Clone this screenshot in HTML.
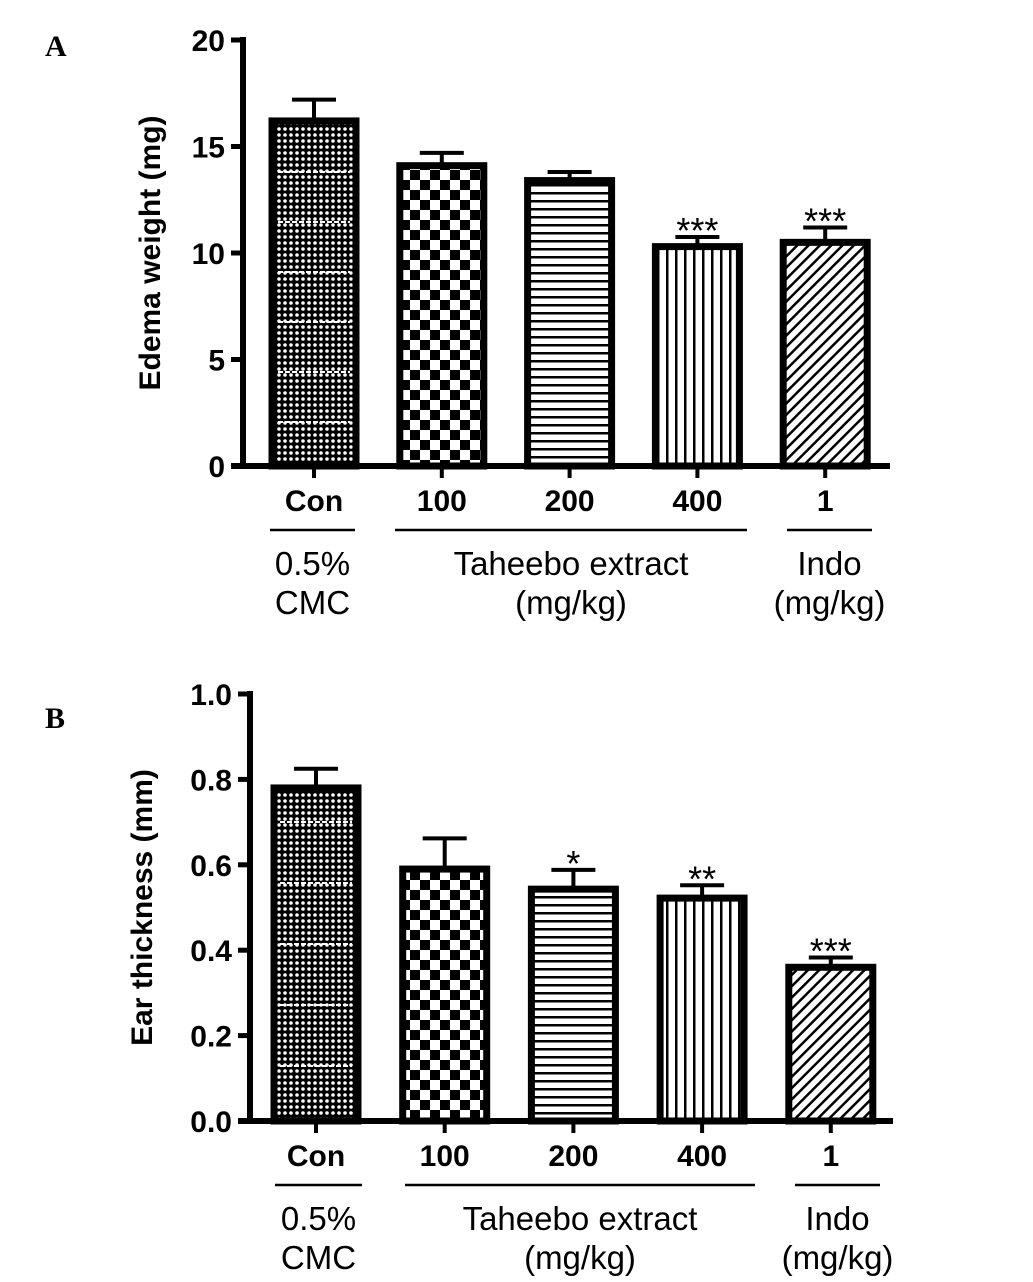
<!DOCTYPE html>
<html><head><meta charset="utf-8"><style>
body{margin:0;background:#fff}
svg{display:block}
text{font-family:"Liberation Sans",Arial,sans-serif;fill:#000}
.tk{font-size:30px;font-weight:bold}
.grp{font-size:33px}
.ttl{font-size:30px;font-weight:bold}
.pl{font-family:"Liberation Serif",serif;font-size:30px;font-weight:bold}
</style></head><body>
<svg id="s" width="1033" height="1282" viewBox="0 0 1033 1282">
<defs>
<pattern id="pCon" width="6" height="24" patternUnits="userSpaceOnUse"><rect width="6" height="24" fill="#000"/><circle cx="3" cy="3" r="1.8" fill="#fff"/><circle cx="3" cy="9" r="1.8" fill="#fff"/><circle cx="3" cy="15" r="1.8" fill="#fff"/><circle cx="3" cy="21" r="1.8" fill="#fff"/></pattern>
<pattern id="p100" width="20" height="20" patternUnits="userSpaceOnUse"><rect width="20" height="20" fill="#fff"/><rect width="10" height="10" fill="#000"/><rect x="10" y="10" width="10" height="10" fill="#000"/></pattern>
<pattern id="p200" width="8" height="8" patternUnits="userSpaceOnUse"><rect width="8" height="8" fill="#fff"/><rect y="0" width="8" height="2.5" fill="#000"/></pattern>
<pattern id="p400" width="9" height="8" patternUnits="userSpaceOnUse"><rect width="9" height="8" fill="#fff"/><rect x="0" width="2.5" height="8" fill="#000"/></pattern>
<pattern id="pIndo" width="8" height="8" patternUnits="userSpaceOnUse" patternTransform="rotate(45)"><rect width="8" height="8" fill="#fff"/><rect width="2.5" height="8" fill="#000"/></pattern>
</defs>
<text class="pl" x="45" y="56">A</text>
<text class="pl" x="45" y="728">B</text>
</svg>
<script>
const categories=["Con","100","200","400","1"];
const valuesA=[16.2,14.1,13.4,10.3,10.5];
const errorsA=[1.0,0.6,0.4,0.45,0.7];
const sigA=["","","","***","***"];
const ticksA=[0,5,10,15,20];
const tickLabelsA=["0","5","10","15","20"];
const valuesB=[0.78,0.59,0.543,0.522,0.36];
const errorsB=[0.045,0.072,0.045,0.03,0.023];
const sigB=["","","*","**","***"];
const ticksB=[0,0.2,0.4,0.6,0.8,1.0];
const tickLabelsB=["0.0","0.2","0.4","0.6","0.8","1.0"];
const pats=["pCon","p100","p200","p400","pIndo"];
const NS="http://www.w3.org/2000/svg";
const svg=document.getElementById('s');
function mk(tag,attrs,parent,txt){const e=document.createElementNS(NS,tag);for(const k in attrs)e.setAttribute(k,attrs[k]);if(txt!==undefined)e.textContent=txt;(parent||svg).appendChild(e);return e;}
function chart(o){
  const g=mk('g',{});
  
  
  const y=v=>o.y0-(v-o.min)/(o.max-o.min)*(o.y0-o.y1);
  const x=i=>o.x0+i*o.pitch;
  o.vals.forEach((v,i)=>{
    const cx=x(i),bw=o.bw;
    const top=y(v+o.err[i]);
    const l=mk('line',{x1:cx,x2:cx,y1:y(v),y2:top,stroke:'#000','stroke-width':4},g);
    
    
    const c=mk('line',{x1:cx-22,x2:cx+22,y1:top,y2:top,stroke:'#000','stroke-width':4},g);
    
    
    const r=mk('rect',{x:cx-bw/2,y:y(v),width:bw,height:o.y0-y(v),fill:'url(#'+pats[i]+')',stroke:'#000','stroke-width':7},g);
    
    
    if(i===0){
      for(let yy=o.y0-o.band;yy>y(v)+10;yy-=o.bandStep){
        const b=mk('line',{x1:cx-bw/2+6,x2:cx+bw/2-6,y1:yy,y2:yy,stroke:'#fff','stroke-width':2,'stroke-dasharray':'5 2'},g);
        
        
      }
    }
    if(o.sig[i]){const t=mk('text',{x:cx,y:top+6,'text-anchor':'middle','font-size':36},g,o.sig[i]);
      
      }
    const tk=mk('line',{x1:cx,x2:cx,y1:o.y0,y2:o.y0+12,stroke:'#000','stroke-width':4},g);
    
    
    const lb=mk('text',{x:cx,y:o.y0+45,'text-anchor':'middle','class':'tk'},g,categories[i]);
    
    
  });
  const ya=mk('line',{x1:o.ax,x2:o.ax,y1:o.y1-3,y2:o.y0,stroke:'#000','stroke-width':6},g);
  
  
  const xa=mk('line',{x1:o.ax-12,x2:o.xend,y1:o.y0,y2:o.y0,stroke:'#000','stroke-width':6},g);
  
  
  o.ticks.forEach((t,i)=>{
    const tl=mk('line',{x1:o.ax-12,x2:o.ax,y1:y(t),y2:y(t),stroke:'#000','stroke-width':5},g);
    
    
    const tt=mk('text',{x:o.ax-18,y:y(t)+11,'text-anchor':'end','class':'tk'},g,o.tlabels[i]);
    
    
  });
  const ttl=mk('text',{x:0,y:0,'text-anchor':'middle','class':'ttl',transform:'translate('+o.tx+','+((o.y0+o.y1)/2)+') rotate(-90)'},g,o.title);
  
  
  const gl=o.y0+64;
  o.groups.forEach(gr=>{
    const ln=mk('line',{x1:gr[0],x2:gr[1],y1:gl,y2:gl,stroke:'#000','stroke-width':2.5},g);
    
    
    const cx=(gr[0]+gr[1])/2;
    const t1=mk('text',{x:cx,y:gl+45,'text-anchor':'middle','class':'grp'},g,gr[2]);
    
    
    const t2=mk('text',{x:cx,y:gl+84,'text-anchor':'middle','class':'grp'},g,gr[3]);
    
    
  });
}
chart({name:'chart-a-edema-weight',vals:valuesA,err:errorsA,sig:sigA,ticks:ticksA,tlabels:tickLabelsA,min:0,max:20,y0:466,y1:40,ax:243,xend:890,x0:314,pitch:127.8,bw:84,tx:160,band:44,bandStep:50,title:'Edema weight (mg)',
  groups:[[270,355,'0.5%','CMC'],[395,747,'Taheebo extract','(mg/kg)'],[787,872,'Indo','(mg/kg)']]});
chart({name:'chart-b-ear-thickness',vals:valuesB,err:errorsB,sig:sigB,ticks:ticksB,tlabels:tickLabelsB,min:0,max:1,y0:1121,y1:694,ax:250,xend:893,x0:316,pitch:128.7,bw:84,tx:152,band:55,bandStep:61,title:'Ear thickness (mm)',
  groups:[[275,362,'0.5%','CMC'],[405,755,'Taheebo extract','(mg/kg)'],[795,880,'Indo','(mg/kg)']]});
</script>
</body></html>
